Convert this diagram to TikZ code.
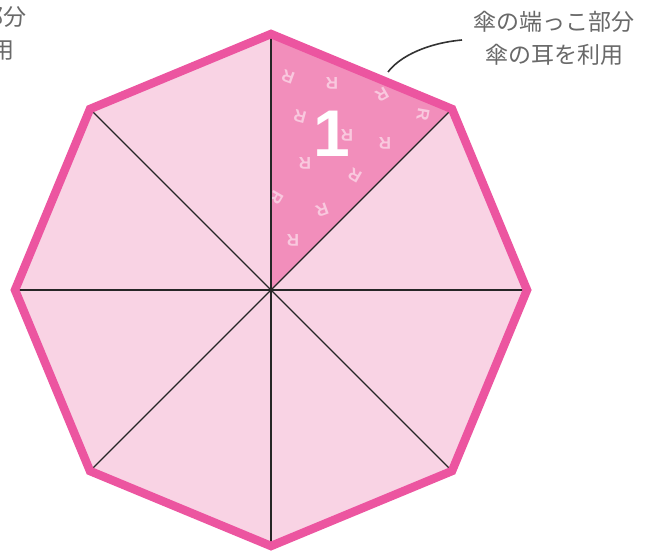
\documentclass[tikz,border=0pt]{standalone}
\usepackage{fontspec}
\newfontfamily\cjk{Noto Sans CJK JP}
\newfontfamily\boldsans{Liberation Sans}
\definecolor{rim}{RGB}{236,85,160}
\definecolor{panel}{RGB}{249,211,228}
\definecolor{hilite}{RGB}{242,142,187}
\definecolor{mark}{RGB}{249,200,222}
\definecolor{labelgray}{RGB}{105,105,105}
\tikzset{
  spoke/.style={draw=black!85, line width=1.2pt},
  rimline/.style={draw=rim, line width=8.5pt, line join=miter},
  rmark/.style={text=mark, font=\boldsans\bfseries\fontsize{17}{17}\selectfont, inner sep=0pt},
  label/.style={text=labelgray, font=\cjk\fontsize{23}{33}\selectfont, align=center, inner sep=0pt},
  leader/.style={draw=black!80, line width=1.6pt}
}
\begin{document}
\begin{tikzpicture}[x=1pt,y=-1pt]
\useasboundingbox (0,0) rectangle (660,552);
\clip (0,0) rectangle (660,552);
\coordinate (C) at (271,290);
\coordinate (V0) at (271,34);
\coordinate (V1) at (452,109);
\coordinate (V2) at (527,290);
\coordinate (V3) at (452,471);
\coordinate (V4) at (271,546);
\coordinate (V5) at (90,471);
\coordinate (V6) at (15,290);
\coordinate (V7) at (90,109);
% panels
\fill[panel] (V0) -- (V1) -- (V2) -- (V3) -- (V4) -- (V5) -- (V6) -- (V7) -- cycle;
\fill[hilite] (C) -- (V0) -- (V1) -- cycle;
% R marks on panel 1
\begin{scope}
\clip (C) -- (V0) -- (V1) -- cycle;
\node[rmark, rotate=160] (r1) at (288,77) {R};
\node[rmark, rotate=180] (r2) at (332,83) {R};
\node[rmark, rotate=-150] (r3) at (382,95) {R};
\node[rmark, rotate=-100] (r4) at (423,115) {R};
\node[rmark, rotate=165] (r5) at (300,117) {R};
\node[rmark, rotate=180] (r6) at (347,135) {R};
\node[rmark, rotate=180] (r7) at (385,143) {R};
\node[rmark, rotate=180] (r8) at (305,163) {R};
\node[rmark, rotate=150] (r9) at (355,175) {R};
\node[rmark, rotate=-120] (r10) at (276,198) {R};
\node[rmark, rotate=-160] (r11) at (322,210) {R};
\node[rmark, rotate=180] (r12) at (293,240) {R};
\end{scope}
\node[text=white, font=\boldsans\bfseries\fontsize{66}{66}\selectfont, inner sep=0pt] (one) at (332,134) {1};
% spokes
\foreach \v in {V0,V1,V2,V3,V4,V5,V6,V7} \draw[spoke] (C) -- (\v);
% rim
\draw[rimline] (V0) -- (V1) -- (V2) -- (V3) -- (V4) -- (V5) -- (V6) -- (V7) -- cycle;
% labels
\node[label] (lab) at (554,38) {傘の端っこ部分\\傘の耳を利用};
\node[label] (labL) at (-54,33) {傘の端っこ部分\\傘の耳を利用};
\coordinate (lstart) at (388,72);
\coordinate (lend) at (462,40);
\draw[leader] (lstart) .. controls (400,56) and (428,43) .. (lend);
\end{tikzpicture}
\end{document}
